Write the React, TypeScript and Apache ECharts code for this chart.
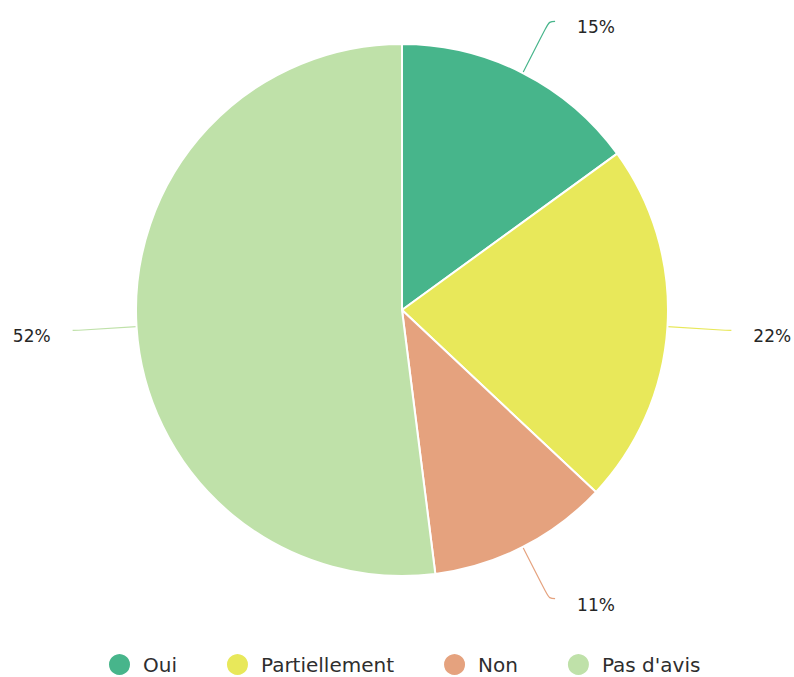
import React, { useEffect, useRef } from "react";
import * as echarts from "echarts";

const categories = ["Oui", "Partiellement", "Non", "Pas d'avis"];
const values = [15, 22, 11, 52];
const colors = ["#47b58b", "#e8e85a", "#e5a27e", "#bfe1a9"];

export default function App() {
  const ref = useRef<HTMLDivElement>(null);
  useEffect(() => {
    document.body.style.margin = "0";
    const chart = echarts.init(ref.current!, undefined, { renderer: "svg" });
    chart.setOption({
      animation: false,
      backgroundColor: "#ffffff",
      color: colors,
      legend: {
        top: 652,
        left: 107,
        padding: 0,
        icon: "circle",
        itemWidth: 23,
        itemHeight: 23,
        itemGap: 48,
        data: categories,
        textStyle: {
          fontFamily: "DejaVu Sans",
          fontSize: 20,
          color: "#2e2e2e",
          padding: [0, 0, 0, 7],
        },
      },
      series: [
        {
          type: "pie",
          center: [402, 310],
          radius: 266,
          startAngle: 90,
          clockwise: true,
          data: categories.map((c, i) => ({ name: c, value: values[i] })),
          itemStyle: { borderColor: "#ffffff", borderWidth: 2 },
          label: {
            formatter: "{a|{c}%}",
            overflow: "none",
            distanceToLabelLine: 22,
            rich: {
              a: {
                fontFamily: "DejaVu Sans",
                fontSize: 17,
                color: "#262626",
                padding: [12, 0, 0, 0],
              },
            },
          },
          labelLine: {
            show: true,
            length: 58,
            length2: 6,
            smooth: 0.4,
            lineStyle: { width: 1.2 },
          },
          emphasis: { disabled: true },
        },
      ],
    });
    return () => chart.dispose();
  }, []);
  return <div ref={ref} style={{ width: 794, height: 677 }} />;
}
